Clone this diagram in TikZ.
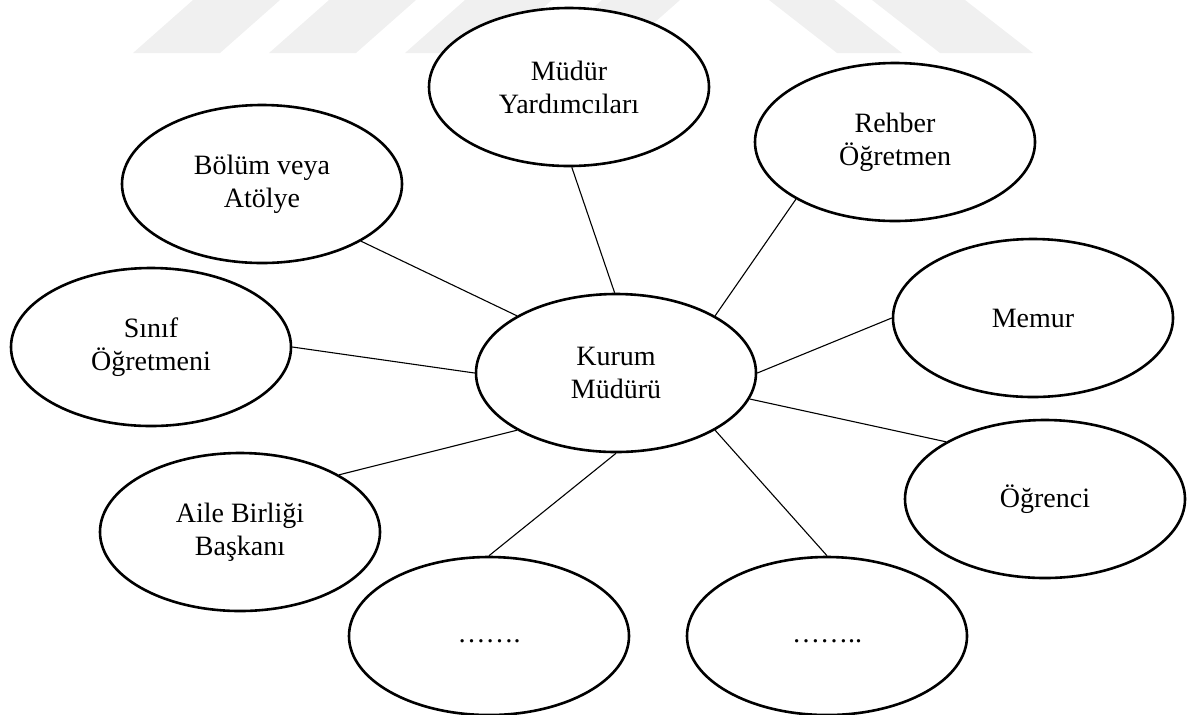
\documentclass[tikz,border=0pt]{standalone}
\usepackage{fontspec}
\setmainfont{Liberation Serif}
\usetikzlibrary{shapes.geometric}
\begin{document}
\begin{tikzpicture}[x=0.5pt,y=-0.5pt,
  bub/.style={ellipse, draw=black, line width=1.3pt, fill=white,
    minimum width=140pt, minimum height=79pt, inner sep=0pt,
    align=center, font=\fontsize{14}{16.5}\selectfont},
  link/.style={line width=0.55pt, draw=black},
  wm/.style={fill=black!6, draw=none}]
\useasboundingbox (0,0) rectangle (1187,714);
% faint watermark stripes
\fill[wm] (133,53) -- (220,53) -- (280,0) -- (193,0) -- cycle;
\fill[wm] (269,53) -- (356,53) -- (416,0) -- (329,0) -- cycle;
\fill[wm] (405,53) -- (492,53) -- (552,0) -- (465,0) -- cycle;
\fill[wm] (542,53) -- (620,53) -- (680,0) -- (602,0) -- cycle;
\fill[wm] (837,53) -- (902,53) -- (834,0) -- (769,0) -- cycle;
\fill[wm] (940,53) -- (1033,53) -- (965,0) -- (872,0) -- cycle;
% nodes
\node[bub] (k)  at (616,373) {Kurum\\Müdürü};
\node[bub] (my) at (569,87)  {Müdür\\Yardımcıları};
\node[bub] (r)  at (895,142) {Rehber\\Öğretmen};
\node[bub] (b)  at (262,184) {Bölüm veya\\Atölye};
\node[bub] (m)  at (1033,318) {Memur};
\node[bub] (s)  at (151,347) {Sınıf\\Öğretmeni};
\node[bub] (o)  at (1045,499) {Öğrenci};
\node[bub] (a)  at (240,532) {Aile Birliği\\Başkanı};
\node[bub] (bl) at (489,636) {\strut…….};
\node[bub] (br) at (827,636) {\strut……..};
% connectors
\draw[link] (my.-88) -- (k.91);
\draw[link] (r.210) -- (k.30);
\draw[link] (b.-30) -- (k.150);
\draw[link] (m.180) -- (k.0);
\draw[link] (s.0) -- (k.180);
\draw[link] (o.150) -- (k.-11);
\draw[link] (a.30) -- (k.210);
\draw[link] (bl.90) -- (k.-90);
\draw[link] (br.90) -- (k.-30);
\end{tikzpicture}
\end{document}
